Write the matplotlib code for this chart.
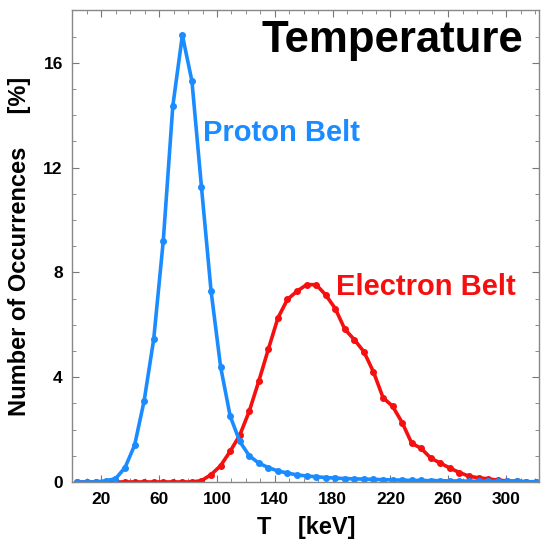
import numpy as np
import matplotlib
matplotlib.use("Agg")
import matplotlib.pyplot as plt
from matplotlib.ticker import MultipleLocator

plt.rcParams['font.family'] = ['Liberation Sans', 'DejaVu Sans']

# bin centres [keV]
temp = np.linspace(3.3, 320.6, 49)

# occurrences [%]
proton = [0, 0, 0, 0.05, 0.12, 0.55, 1.4, 3.1, 5.45, 9.2,
          14.35, 17.05, 15.3, 11.25, 7.3, 4.4, 2.52, 1.55, 1.0, 0.72,
          0.55, 0.42, 0.34, 0.27, 0.23, 0.2, 0.17, 0.15, 0.13, 0.12,
          0.11, 0.1, 0.09, 0.08, 0.07, 0.06, 0.06, 0.05, 0.05, 0.04,
          0.04, 0.03, 0.03, 0.03, 0.02, 0.02, 0.02, 0.01, 0.01]
electron = [0, 0, 0, 0, 0, 0, 0, 0, 0, 0,
            0, 0, 0, 0.05, 0.28, 0.62, 1.17, 1.78, 2.7, 3.85,
            5.07, 6.26, 6.97, 7.28, 7.53, 7.53, 7.14, 6.62, 5.83, 5.43,
            4.97, 4.2, 3.22, 2.89, 2.27, 1.48, 1.28, 0.91, 0.72, 0.53,
            0.36, 0.22, 0.16, 0.12, 0.07, 0.04, 0.03, 0.01, 0.0]

blue = '#1a8cff'
red = '#f50f0f'

fig = plt.figure(figsize=(5.41, 5.44), dpi=100)
ax = fig.add_axes([0.134, 0.114, 0.863, 0.867])

ax.plot(temp, electron, '-o', color=red, lw=2.6, ms=4.0)
ax.plot(temp, proton, '-o', color=blue, lw=2.6, ms=4.0)

ax.set_xlim(0, 323)
ax.set_ylim(0, 18)
ax.set_xticks([20, 60, 100, 140, 180, 220, 260, 300])
ax.set_yticks([0, 4, 8, 12, 16])
ax.xaxis.set_minor_locator(MultipleLocator(10))
ax.yaxis.set_minor_locator(MultipleLocator(1))
ax.tick_params(which='both', direction='in', top=True, right=True,
               color='#777777')
ax.tick_params(which='major', length=5, width=0.8, labelsize=12.5, pad=7)
ax.tick_params(which='minor', length=3, width=0.6)
for lab in ax.get_xticklabels() + ax.get_yticklabels():
    lab.set_fontweight('bold')
for sp in ax.spines.values():
    sp.set_color('#888888')
    sp.set_linewidth(1.0)

ax.set_xlabel('T    [keV]', fontsize=17, fontweight='bold', labelpad=7)
ax.set_ylabel('Number of Occurrences     [%]', fontsize=17,
              fontweight='bold', labelpad=9)

ax.text(0.965, 0.937, 'Temperature', transform=ax.transAxes, ha='right',
        va='center', fontsize=31.5, fontweight='bold', color='black')
ax.text(90, 13.3, 'Proton Belt', ha='left', va='center', fontsize=21,
        fontweight='bold', color=blue)
ax.text(182, 7.45, 'Electron Belt', ha='left', va='center', fontsize=21,
        fontweight='bold', color=red)

fig.savefig('out.png', dpi=100)
